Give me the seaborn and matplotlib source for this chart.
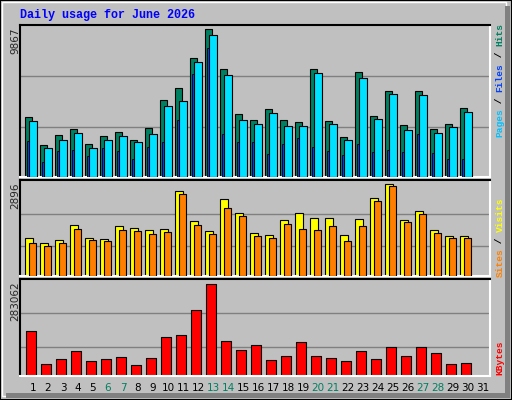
import matplotlib
matplotlib.use("Agg")
import matplotlib.pyplot as plt
import seaborn as sns
import numpy as np
from matplotlib.patches import Rectangle

sns.set_style("white")
plt.rcParams['font.family'] = ['DejaVu Sans']

days = list(range(1, 31))
hits = [4000,2133,2800,3200,2200,2733,3000,2467,3267,5133,5933,7933,9867,7200,4200,
        3800,4533,3800,3667,7200,3733,2667,7000,4067,5733,3467,5733,3200,3533,4600]
files = [3733,1933,2467,2933,1933,2467,2733,2333,2867,4733,5067,7667,9467,6800,3800,
         3533,4267,3400,3400,6933,3533,2467,6600,3867,5533,3133,5467,2933,3333,4333]
pages = [2400,1000,1733,1800,1400,1933,1733,1200,2000,2333,3800,6867,8600,2867,2333,
         2333,1533,2200,2600,2000,1733,1467,2200,1667,1800,1667,2867,1600,1200,1200]
sites = [1190,1032,1127,1601,1190,1158,1569,1506,1443,1474,2675,1727,1411,2422,1980,
         1348,1285,1759,1980,1822,1822,1285,1790,2453,2896,1759,2043,1443,1253,1253]
visits = [1032,937,1032,1474,1127,1095,1443,1411,1316,1380,2580,1601,1316,2138,1885,
          1253,1190,1632,1474,1443,1569,1095,1569,2359,2833,1695,1948,1348,1190,1190]
kbytes = [137400,38200,53700,76400,45500,53700,59900,35100,56800,121900,128100,202500,
          283062,109500,81600,97100,50600,63000,106400,63000,56800,45500,78500,53700,
          90900,63000,90900,72300,38200,41300]
label_days = [str(d) for d in range(1, 32)]
weekend = {6, 7, 13, 14, 20, 21, 27, 28}
title = "Daily usage for June 2026"

W, H = 512, 400
fig = plt.figure(figsize=(W/100, H/100), dpi=100)
fig.patch.set_facecolor("#C0C0C0")

def fx(x): return x / W
def fy(y): return 1 - y / H

# outer frame
fig.patches.append(Rectangle((0, 0), 1, 1, transform=fig.transFigure, fill=False,
                             edgecolor="black", lw=1.5))
fig.patches.append(Rectangle((fx(2), fy(396)), fx(504), 394/H, transform=fig.transFigure,
                             fill=False, edgecolor="white", lw=1))
fig.patches.append(Rectangle((fx(505), fy(398)), fx(5), 392/H, transform=fig.transFigure,
                             facecolor="#808080", edgecolor="none"))
fig.patches.append(Rectangle((fx(6), fy(398)), fx(504), 5/H, transform=fig.transFigure,
                             facecolor="#808080", edgecolor="none"))

def make_ax(ytop, ybot, ymax, grid):
    ax = fig.add_axes([fx(20), fy(ybot), fx(470), (ybot - ytop)/H])
    ax.set_facecolor("#C0C0C0")
    ax.set_xlim(0, 470/15)
    ax.set_ylim(0, ymax)
    ax.set_xticks([]); ax.set_yticks([])
    for g in grid:
        ax.axhline(ymax*g, color="#808080", lw=1, zorder=0)
    ax.spines['top'].set_color("black"); ax.spines['left'].set_color("black")
    ax.spines['bottom'].set_color("white"); ax.spines['right'].set_color("white")
    for s in ax.spines.values(): s.set_linewidth(1.5)
    return ax

x0 = np.array(days) - 1.0
ax1 = make_ax(25, 177, 10134, [0.33, 0.665])
ax1.bar(x0 + 0.36, hits, width=0.47, align='edge', color="#008060", edgecolor="black", lw=0.8, zorder=2)
ax1.bar(x0 + 0.47, pages, width=0.12, align='edge', color="#0040FF", edgecolor="black", lw=0.6, zorder=3)
ax1.bar(x0 + 0.62, files, width=0.49, align='edge', color="#00E0FF", edgecolor="black", lw=0.8, zorder=4)

ax2 = make_ax(180, 276, 3032, [0.31, 0.65])
ax2.bar(x0 + 0.36, sites, width=0.53, align='edge', color="#FFFF00", edgecolor="black", lw=0.8, zorder=2)
ax2.bar(x0 + 0.62, visits, width=0.47, align='edge', color="#FF8000", edgecolor="black", lw=0.8, zorder=3)

ax3 = make_ax(279, 376, 299500, [0.30, 0.645])
ax3.bar(x0 + 0.42, kbytes, width=0.67, align='edge', color="#FF0000", edgecolor="black", lw=0.8, zorder=2)

for i, lab in enumerate(label_days):
    d = i + 1
    fig.text(fx(20 + 15*i + 13), fy(388), lab, ha="center", va="center", fontsize=7.5,
             color="#008060" if d in weekend else "black")

fig.text(fx(20), fy(15), title, ha="left", va="center", fontsize=8.5,
         family="Liberation Mono", weight="bold", color="#0000FF")

for ytop, txt in [(27, "9867"), (182, "2896"), (281, "283062")]:
    fig.text(fx(15), fy(ytop), txt, rotation=90, ha="center", va="top", fontsize=7.5)

def right_label(ybottom, parts, fs=6.8):
    cw = 0.6 * fs * 100 / 72
    y = ybottom
    for txt, col in parts:
        fig.text(fx(500), fy(y), txt, rotation=90, ha="center", va="bottom", fontsize=fs,
                 family="Liberation Mono", weight="bold", color=col)
        y -= cw * len(txt)

right_label(137, [("Pages", "#00C0FF"), (" / ", "black"), ("Files", "#0040FF"),
                  (" / ", "black"), ("Hits", "#008060")])
right_label(277, [("Sites", "#FF8000"), (" / ", "black"), ("Visits", "#FFFF00")])
right_label(375, [("KBytes", "#FF0000")])

fig.savefig("out.png", dpi=100, facecolor=fig.get_facecolor())
